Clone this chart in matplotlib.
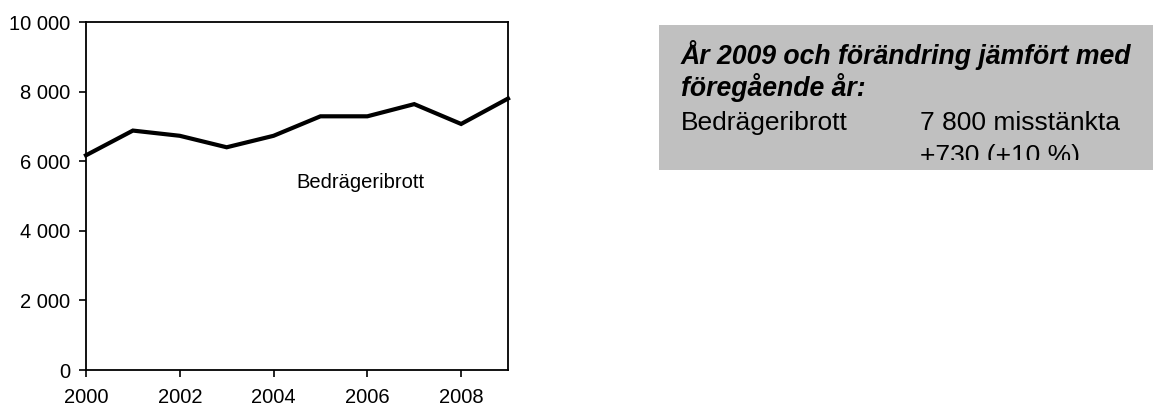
import matplotlib.pyplot as plt
from matplotlib.patches import Rectangle
from matplotlib.ticker import FuncFormatter

plt.rcParams['font.family'] = ['Liberation Sans', 'DejaVu Sans']

# data
years = [2000, 2001, 2002, 2003, 2004, 2005, 2006, 2007, 2008, 2009]
suspects = [6170, 6880, 6730, 6400, 6730, 7290, 7290, 7640, 7070, 7800]
series_label = 'Bedrägeribrott'
box_title = 'År 2009 och förändring jämfört med\nföregående år:'
box_rows = ['7 800 misstänkta', '+730 (+10 %)']

W, H = 1155, 411
fig = plt.figure(figsize=(W / 100, H / 100), dpi=100)

def fx(px):
    return px / W

def fy(py):
    return 1 - py / H

ax = fig.add_axes([fx(86), fy(370), fx(508) - fx(86), fy(22) - fy(370)])
ax.plot(years, suspects, color='black', lw=3.0, solid_joinstyle='miter', clip_on=False)
ax.set_xlim(2000, 2009)
ax.set_ylim(0, 10000)
ax.set_xticks([2000, 2002, 2004, 2006, 2008])
ax.set_yticks(range(0, 10001, 2000))
ax.yaxis.set_major_formatter(FuncFormatter(lambda v, p: f'{int(v):,}'.replace(',', ' ')))
ax.tick_params(labelsize=14.5, length=5, width=1.2, color='black')
ax.tick_params(axis='y', pad=6.5)
ax.tick_params(axis='x', pad=8)
for s in ax.spines.values():
    s.set_linewidth(1.3)
ax.text(2005.86, 5400, series_label, fontsize=14.5, ha='center', va='center')

# grey fact box on the right
box = Rectangle((fx(659), fy(170)), fx(1153) - fx(659), fy(25) - fy(170),
                transform=fig.transFigure, facecolor='#c0c0c0', edgecolor='none')
fig.add_artist(box)
fig.text(fx(681), fy(96), box_title, fontsize=19.2, fontweight='bold', fontstyle='italic',
         va='baseline', linespacing=1.12)
fig.text(fx(681), fy(130), series_label, fontsize=19, va='baseline')
fig.text(fx(920), fy(130), box_rows[0], fontsize=19, va='baseline')
clip = Rectangle((fx(659), fy(160)), fx(1153) - fx(659), fy(25) - fy(160),
                 transform=fig.transFigure, visible=False)
fig.add_artist(clip)
t = fig.text(fx(920), fy(163), box_rows[1], fontsize=19, va='baseline')
t.set_clip_path(clip)

fig.savefig('out.png', dpi=100)
